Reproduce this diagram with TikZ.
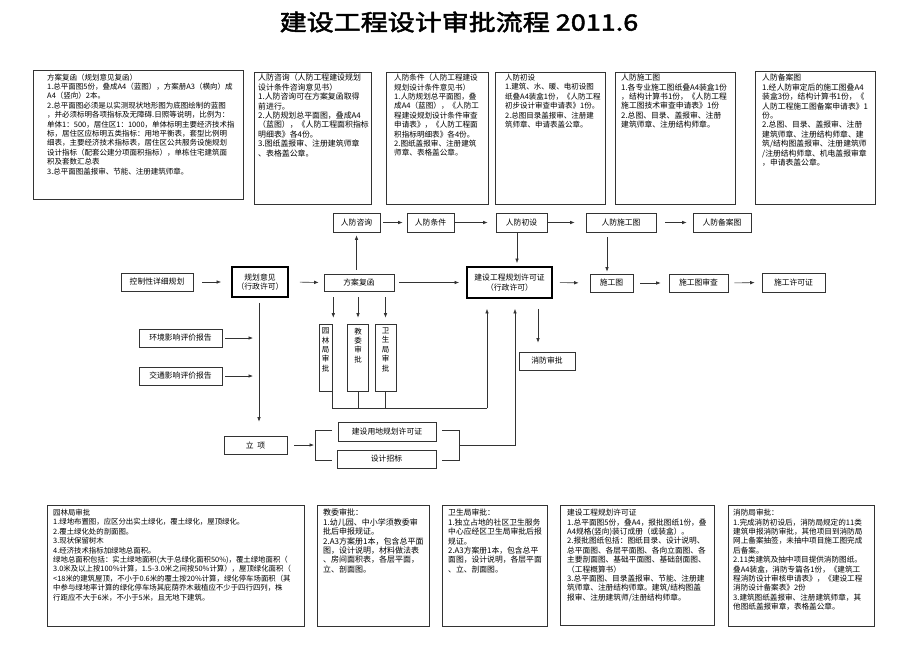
\documentclass[tikz,border=0pt]{standalone}
\usepackage{fontspec}
\newfontfamily\cjk{Noto Sans CJK SC}
\newfontfamily\titlefont[FakeBold=2.2,FakeStretch=1.2]{Noto Sans CJK SC}
\usetikzlibrary{arrows.meta,calc,fit}
\newcommand\fsz[1]{\fontsize{#1}{9.4}\selectfont}
\begin{document}
\begin{tikzpicture}[x=1pt,y=-1pt,
  line/.style={draw=black!80, line width=0.6pt},
  arr/.style={line, -{Latex[length=4.5pt,width=3.5pt]}},
  infobox/.style={line, inner sep=0pt},
  infotxt/.style={anchor=north west, inner sep=0pt, align=left, text=black},
  flow/.style={line, inner sep=0pt, align=center, font=\cjk\fsz{7.8}},
  thickflow/.style={flow, line width=1.8pt, draw=black},
  vtxt/.style={anchor=north, inner sep=0pt, align=center, font=\cjk\fsz{7.5}}
]
\useasboundingbox (0,0) rectangle (920,651);
\fill[white] (0,0) rectangle (920,651);

% title
\node[font=\titlefont\fontsize{22.5}{27}\selectfont, text=black] (title) at (459,22) {建设工程设计审批流程 2011.6};

% ---------- top info boxes ----------
\node[infobox, fit={(33,70)(243,199)}] (b1) {};
\node[infotxt, font=\cjk\fsz{7.5}] (t1) at (47,73.5) {方案复函（规划意见复函）\\
1.总平面图5份，叠成A4（蓝图），方案册A3（横向）成\\
A4（竖向）2本。\\
2.总平面图必须是以实测现状地形图为底图绘制的蓝图\\
，并必须标明各项指标及无障碍.日照等说明，比例为：\\
单体1：500，居住区1：1000，单体标明主要经济技术指\\
标，居住区应标明五类指标：用地平衡表，套型比例明\\
细表，主要经济技术指标表，居住区公共服务设施规划\\
设计指标（配套公建分项面积指标），单栋住宅建筑面\\
积及套数汇总表\\
3.总平面图盖报审、节能、注册建筑师章。};

\node[infobox, fit={(254,72)(371,204)}] (b2) {};
\node[infotxt, font=\cjk\fsz{7.9}] (t2) at (258,74) {人防咨询（人防工程建设规划\\
设计条件咨询意见书）\\
1.人防咨询可在方案复函取得\\
前进行。\\
2.人防规划总平面图，叠成A4\\
（蓝图），《人防工程面积指标\\
明细表》各4份。\\
3.图纸盖报审、注册建筑师章\\
、表格盖公章。};

\node[infobox, fit={(386,72)(488,204)}] (b3) {};
\node[infotxt, font=\cjk\fsz{7.6}] (t3) at (394,74) {人防条件（人防工程建设\\
规划设计条件意见书）\\
1.人防规划总平面图，叠\\
成A4（蓝图），《人防工\\
程建设规划设计条件审查\\
申请表》，《人防工程面\\
积指标明细表》各4份。\\
2.图纸盖报审、注册建筑\\
师章、表格盖公章。};

\node[infobox, fit={(495,72)(605,204)}] (b4) {};
\node[infotxt, font=\cjk\fsz{7.5}] (t4) at (505,74) {人防初设\\
1.建筑、水、暖、电初设图\\
纸叠A4装盒1份，《人防工程\\
初步设计审查申请表》1份。\\
2.总图目录盖报审、注册建\\
筑师章、申请表盖公章。};

\node[infobox, fit={(615,72)(735,204)}] (b5) {};
\node[infotxt, font=\cjk\fsz{7.8}] (t5) at (621,74) {人防施工图\\
1.各专业施工图纸叠A4装盒1份\\
，结构计算书1份，《人防工程\\
施工图技术审查申请表》1份\\
2.总图、目录、盖报审、注册\\
建筑师章、注册结构师章。};

\node[infobox, fit={(755,71)(875,204)}] (b6) {};
\node[infotxt, font=\cjk\fsz{7.8}] (t6) at (762,74) {人防备案图\\
1.经人防审定后的施工图叠A4\\
装盒3份，结构计算书1份，《\\
人防工程施工图备案申请表》1\\
份。\\
2.总图、目录、盖报审、注册\\
建筑师章、注册结构师章、建\\
筑/结构图盖报审、注册建筑师\\
/注册结构师章、机电盖报审章\\
，申请表盖公章。};

% ---------- bottom info boxes ----------
\node[infobox, fit={(47,505)(304,626)}] (c1) {};
\node[infotxt, font=\cjk\fsz{7.4}] (u1) at (53,509) {园林局审批\\
1.绿地布置图，应区分出实土绿化，覆土绿化，屋顶绿化。\\
2.覆土绿化处的剖面图。\\
3.现状保留树木\\
4.经济技术指标加绿地总面积。\\
绿地总面积包括：实土绿地面积(大于总绿化面积50\%)，覆土绿地面积（\\
3.0米及以上按100\%计算，1.5-3.0米之间按50\%计算），屋顶绿化面积（\\
<18米的建筑屋顶，不小于0.6米的覆土按20\%计算，绿化停车场面积（其\\
中参与绿地率计算的绿化停车场其庇荫乔木栽植应不少于四行四列，株\\
行距应不大于6米，不小于5米，且无地下建筑。};

\node[infobox, fit={(317,505)(429,626)}] (c2) {};
\node[infotxt, font=\cjk\fsz{8}] (u2) at (323,509) {教委审批：\\
1.幼儿园、中小学须教委审\\
批后申报规证。\\
2.A3方案册1本，包含总平面\\
图，设计说明，材料做法表\\
、房间面积表，各层平面，\\
立、剖面图。};

\node[infobox, fit={(442,505)(547,626)}] (c3) {};
\node[infotxt, font=\cjk\fsz{7.8}] (u3) at (448,509) {卫生局审批：\\
1.独立占地的社区卫生服务\\
中心应经区卫生局审批后报\\
规证。\\
2.A3方案册1本，包含总平\\
面图，设计说明，各层平面\\
、立、剖面图。};

\node[infobox, fit={(560,505)(714,625)}] (c4) {};
\node[infotxt, font=\cjk\fsz{7.7}] (u4) at (567,509) {建设工程规划许可证\\
1.总平面图5份，叠A4，报批图纸1份，叠\\
A4规格(竖向)装订成册（或装盒）。\\
2.报批图纸包括：图纸目录、设计说明、\\
总平面图、各层平面图、各向立面图、各\\
主要剖面图、基础平面图、基础剖面图、\\
（工程概算书）\\
3.总平面图、目录盖报审、节能、注册建\\
筑师章、注册结构师章。建筑/结构图盖\\
报审、注册建筑师/注册结构师章。};

\node[infobox, fit={(728,505)(874,626)}] (c5) {};
\node[infotxt, font=\cjk\fsz{7.6}] (u5) at (733,509) {消防局审批：\\
1.完成消防初设后，消防局规定的11类\\
建筑申报消防审批，其他项目到消防局\\
网上备案抽签，未抽中项目施工图完成\\
后备案。\\
2.11类建筑及抽中项目提供消防图纸。\\
叠A4装盒，消防专篇各1份，《建筑工\\
程消防设计审核申请表》，《建设工程\\
消防设计备案表》2份\\
3.建筑图纸盖报审、注册建筑师章，其\\
他图纸盖报审章，表格盖公章。};

% ---------- flow nodes ----------
\node[flow, minimum width=47, minimum height=19] (rfzx) at (356.5,222.5) {人防咨询};
\node[flow, minimum width=47, minimum height=19] (rftj) at (430.5,222.5) {人防条件};
\node[flow, minimum width=51, minimum height=19] (rfcs) at (521.5,222.5) {人防初设};
\node[flow, minimum width=70, minimum height=19] (rfsgt) at (621,222.5) {人防施工图};
\node[flow, minimum width=58, minimum height=19] (rfba) at (722,222.5) {人防备案图};

\node[flow, minimum width=72, minimum height=18] (kzx) at (157,282) {控制性详细规划};
\node[thickflow, minimum width=56, minimum height=30] (ghyj) at (260,282) {规划意见\\（行政许可）};
\node[flow, minimum width=70, minimum height=17] (fafh) at (359,282.5) {方案复函};
\node[thickflow, minimum width=85, minimum height=31] (jsgc) at (509.5,282.5) {建设工程规划许可证\\（行政许可）};
\node[flow, minimum width=43, minimum height=18] (sgt) at (611.5,283) {施工图};
\node[flow, minimum width=59, minimum height=18] (sgtsc) at (698.5,283) {施工图审查};
\node[flow, minimum width=63, minimum height=19] (sgxkz) at (793.5,282.5) {施工许可证};
\node[flow, minimum width=56, minimum height=18] (xfsp) at (547,361) {消防审批};

\node[flow, minimum width=13, minimum height=67] (ylj) at (325.5,357.5) {};
\node[vtxt] (ylj-t) at (325.5,327.5) {园\\林\\局\\审\\批};
\node[flow, minimum width=21, minimum height=67] (jw) at (358,357.5) {};
\node[vtxt] (jw-t) at (358,327.5) {教\\委\\审\\批};
\node[flow, minimum width=21, minimum height=67] (wsj) at (385.5,357.5) {};
\node[vtxt] (wsj-t) at (385.5,327.5) {卫\\生\\局\\审\\批};

\node[flow, minimum width=83, minimum height=18] (hjyx) at (180.5,338) {环境影响评价报告};
\node[flow, minimum width=83, minimum height=18] (jtyx) at (180.5,376) {交通影响评价报告};
\node[flow, minimum width=63, minimum height=18] (lx) at (255.5,445) {立\ \ 项};
\node[flow, minimum width=98, minimum height=19] (jsyd) at (387,431.5) {建设用地规划许可证};
\node[flow, minimum width=99, minimum height=18] (sjzb) at (386.5,459) {设计招标};

% ---------- connectors ----------
\draw[arr, shorten <=9pt, shorten >=10pt] (kzx.east) -- (ghyj.west);
\draw[arr, shorten <=11pt, shorten >=5pt] (ghyj.east) -- (fafh.west);
\draw[arr, shorten <=5pt, shorten >=7pt] (fafh.east) -- (jsgc.west);
\draw[arr, shorten <=4pt, shorten >=3pt] (rfzx.south |- fafh.north) -- (rfzx.south);
\draw[arr, shorten <=3pt, shorten >=4pt] (rfzx.east) -- (rftj.west);
\draw[arr, shorten <=1pt, shorten >=8pt] (rftj.east) -- (rfcs.west);
\draw[arr, shorten <=1pt, shorten >=11pt] (rfcs.east) -- (rfsgt.west);
\draw[arr, shorten <=9pt, shorten >=6pt] (rfsgt.east) -- (rfba.west);
\draw[arr, shorten <=1pt, shorten >=3pt] ($(rfcs.south)+(-4.5,0)$) -- ($(rfcs.south |- jsgc.north)+(-4.5,0)$);
\draw[arr, shorten <=7pt, shorten >=11pt] (jsgc.east) -- (sgt.west);
\draw[arr, shorten <=5pt, shorten >=2pt] ($(rfsgt.south)+(-14,0)$) -- ($(rfsgt.south |- sgt.north)+(-14,0)$);
\draw[arr, shorten <=7pt, shorten >=8pt] (sgt.east) -- (sgtsc.west);
\draw[arr, shorten <=6pt, shorten >=7pt] (sgtsc.east) -- (sgxkz.west);
\draw[arr, shorten <=10pt, shorten >=9pt] ($(jsgc.south)+(28.5,0)$) -- ($(jsgc.south |- xfsp.north)+(28.5,0)$);

% fafh to review boxes
\draw[arr, shorten <=6pt, shorten >=6pt] ($(fafh.south -| ylj.east)+(1,0)$) -- ($(ylj.north east)+(1,0)$);
\draw[arr, shorten <=6pt, shorten >=6pt] (fafh.south -| jw.north) -- (jw.north);
\draw[arr, shorten <=6pt, shorten >=6pt] (fafh.south -| wsj.north) -- (wsj.north);

% review boxes collector to jsgc
\coordinate (rv) at (487,408);
\draw[line] (ylj.south east) -- (ylj.south east |- rv) -- (rv);
\draw[line] (jw.south) -- (jw.south |- rv);
\draw[line] (wsj.south) -- (wsj.south |- rv);
\draw[arr, shorten >=10pt] (rv) -- (rv |- jsgc.south);

% ghyj down to lx, side inputs
\draw[arr, shorten <=5pt, shorten >=14pt] ($(ghyj.south)+(-1,0)$) -- ($(ghyj.south |- lx.north)+(-1,0)$);
\draw[arr, shorten <=3pt, shorten >=7pt] (hjyx.east) -- (hjyx.east -| ghyj.south);
\draw[arr, shorten <=3pt, shorten >=7pt] (jtyx.east) -- (jtyx.east -| ghyj.south);

% brackets
\coordinate (lb) at (315,445);
\draw[line] (332,430) -- (315,430) -- (315,460) -- (332,460);
\draw[arr, shorten <=7pt, shorten >=1pt] (lx.east) -- (lb);
\coordinate (rb) at (459,445);
\coordinate (rup) at (515,445);
\draw[line] (442,430) -- (459,430) -- (459,460) -- (442,460);
\draw[arr, shorten >=10pt] (rb) -- (rup) -- (rup |- jsgc.south);
\end{tikzpicture}
\end{document}
